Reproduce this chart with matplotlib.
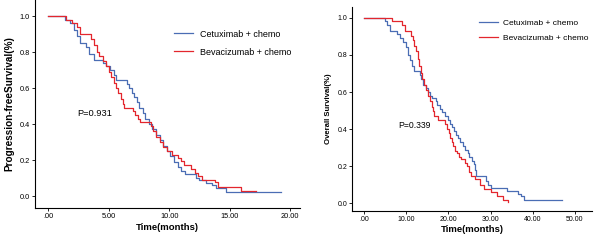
import matplotlib.pyplot as plt

# Progression-free survival (months, survival fraction)
pfs_cetux_t = [0, 1.4, 1.8, 2.1, 2.4, 2.6, 3.1, 3.4, 3.8, 4.5, 4.8, 5.1, 5.4, 5.6, 6.5, 6.7,
               6.9, 7.1, 7.3, 7.5, 7.8, 8.0, 8.3, 8.6, 8.9, 9.2, 9.5, 9.8, 10.1, 10.4, 10.7,
               11.0, 11.3, 12.2, 12.5, 13.0, 13.5, 13.9, 14.7, 19.2]
pfs_cetux_s = [1.0, 0.98, 0.96, 0.92, 0.89, 0.85, 0.83, 0.79, 0.755, 0.74, 0.72, 0.70, 0.67,
               0.645, 0.62, 0.60, 0.57, 0.55, 0.52, 0.49, 0.46, 0.43, 0.40, 0.37, 0.34, 0.31,
               0.28, 0.25, 0.22, 0.19, 0.16, 0.14, 0.12, 0.10, 0.09, 0.075, 0.06, 0.045, 0.02,
               0.02]
pfs_bev_t = [0, 1.5, 2.0, 2.4, 2.6, 3.5, 3.8, 4.0, 4.2, 4.5, 4.8, 5.0, 5.2, 5.4, 5.6, 5.8,
             6.0, 6.2, 6.3, 7.0, 7.2, 7.4, 7.6, 8.5, 8.7, 8.9, 9.2, 9.5, 9.8, 10.2, 10.7,
             11.0, 11.2, 11.8, 12.1, 12.4, 12.7, 13.8, 14.0, 15.9, 17.2]
pfs_bev_s = [1.0, 0.98, 0.96, 0.94, 0.90, 0.87, 0.84, 0.80, 0.78, 0.75, 0.72, 0.69, 0.66,
             0.63, 0.60, 0.57, 0.54, 0.51, 0.49, 0.47, 0.45, 0.43, 0.41, 0.39, 0.36, 0.33,
             0.30, 0.27, 0.25, 0.23, 0.21, 0.195, 0.175, 0.15, 0.13, 0.11, 0.09, 0.08, 0.05,
             0.03, 0.03]

# Overall survival
os_cetux_t = [0, 4.9, 5.5, 6.1, 7.7, 8.5, 9.2, 9.9, 10.4, 10.8, 11.4, 11.8, 13.2, 13.6, 14.0,
              14.6, 15.2, 15.6, 16.2, 17.0, 17.4, 18.0, 18.5, 19.2, 19.8, 20.4, 20.9, 21.3,
              21.7, 22.2, 22.7, 23.4, 24.0, 24.6, 25.0, 25.6, 26.0, 26.3, 26.6, 29.0, 29.5,
              30.0, 34.0, 36.6, 37.2, 38.0, 47.0]
os_cetux_s = [1.0, 0.98, 0.96, 0.93, 0.91, 0.89, 0.87, 0.84, 0.80, 0.77, 0.74, 0.715, 0.69,
              0.67, 0.64, 0.62, 0.60, 0.58, 0.57, 0.55, 0.53, 0.51, 0.49, 0.47, 0.45, 0.43,
              0.41, 0.39, 0.37, 0.35, 0.33, 0.31, 0.29, 0.27, 0.25, 0.23, 0.21, 0.18, 0.15,
              0.12, 0.10, 0.085, 0.065, 0.05, 0.04, 0.02, 0.02]
os_bev_t = [0, 6.5, 9.0, 9.8, 11.2, 11.5, 11.9, 12.3, 12.7, 13.0, 13.4, 13.8, 14.3, 14.8,
            15.2, 15.7, 16.0, 16.3, 16.7, 17.5, 19.1, 19.6, 20.1, 20.4, 20.8, 21.0, 21.5,
            22.0, 22.4, 23.0, 24.0, 24.5, 25.0, 25.4, 26.2, 27.5, 28.4, 30.0, 31.6, 33.0, 34.2]
os_bev_s = [1.0, 0.98, 0.96, 0.93, 0.90, 0.88, 0.85, 0.82, 0.78, 0.74, 0.70, 0.67, 0.64,
            0.61, 0.58, 0.55, 0.52, 0.50, 0.47, 0.45, 0.43, 0.40, 0.38, 0.35, 0.33, 0.31,
            0.28, 0.27, 0.25, 0.24, 0.22, 0.20, 0.17, 0.15, 0.13, 0.10, 0.08, 0.06, 0.04,
            0.02, 0.01]

labels = ["Cetuximab + chemo", "Bevacizumab + chemo"]
blue = "#4a6db4"
red = "#e3262d"

plt.rcParams["font.family"] = ["Liberation Sans", "DejaVu Sans"]

fig = plt.figure(figsize=(6, 2.42), dpi=100)
ax1 = fig.add_axes([0.058, 0.14, 0.442, 0.86])
ax2 = fig.add_axes([0.587, 0.129, 0.399, 0.842])


def style(ax, xticks, xlabel, ylabel, tick_size, ylab_size):
    ax.spines["top"].set_visible(False)
    ax.spines["right"].set_visible(False)
    ax.spines["left"].set_linewidth(0.8)
    ax.spines["bottom"].set_linewidth(0.8)
    ax.set_xticks(xticks)
    ax.set_xticklabels([".00" if v == 0 else "%.2f" % v for v in xticks])
    ax.set_yticks([0, 0.2, 0.4, 0.6, 0.8, 1.0])
    ax.set_yticklabels(["0.0", "0.2", "0.4", "0.6", "0.8", "1.0"])
    ax.tick_params(direction="out", length=2, width=0.6, labelsize=tick_size, pad=1.5)
    ax.set_xlabel(xlabel, fontsize=6.8, fontweight="bold", labelpad=2)
    ax.set_ylabel(ylabel, fontsize=ylab_size, fontweight="bold", labelpad=4)


# left panel: PFS
ax1.step(pfs_cetux_t, pfs_cetux_s, where="post", color=blue, lw=0.9, label=labels[0])
ax1.step(pfs_bev_t, pfs_bev_s, where="post", color=red, lw=0.9, label=labels[1])
ax1.set_xlim(-1.1, 20.8)
ax1.set_ylim(-0.067, 1.089)
style(ax1, [0, 5, 10, 15, 20], "Time(months)", "Progression-freeSurvival(%)", 5.3, 7.2)
ax1.text(2.4, 0.46, "P=0.931", fontsize=6.7, va="center")
ax1.legend(loc="upper left", bbox_to_anchor=(0.29, 0.878), bbox_transform=fig.transFigure,
           frameon=False, fontsize=6.5, handlelength=2.1, handletextpad=0.75,
           labelspacing=1.0, borderpad=0, borderaxespad=0)

# right panel: OS
ax2.step(os_cetux_t, os_cetux_s, where="post", color=blue, lw=0.9, label=labels[0])
ax2.step(os_bev_t, os_bev_s, where="post", color=red, lw=0.9, label=labels[1])
ax2.set_xlim(-2.84, 54)
ax2.set_ylim(-0.04, 1.058)
style(ax2, [0, 10, 20, 30, 40, 50], "Time(months)", "Overall Survival(%)", 5.0, 5.6)
ax2.text(8.0, 0.42, "P=0.339", fontsize=6.2, va="center")
ax2.legend(loc="upper left", bbox_to_anchor=(0.798, 0.922), bbox_transform=fig.transFigure,
           frameon=False, fontsize=6.0, handlelength=2.3, handletextpad=0.6,
           labelspacing=0.9, borderpad=0, borderaxespad=0)

fig.savefig("out.png", dpi=100)
